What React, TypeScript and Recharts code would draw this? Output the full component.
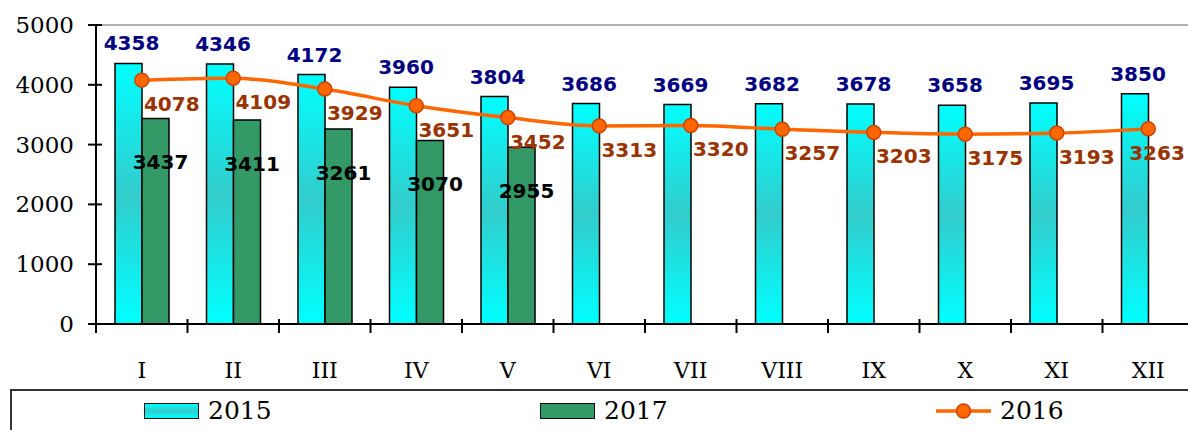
import React from 'react';
import { ComposedChart, Bar, Line, XAxis, YAxis, LabelList, ReferenceLine, Legend } from 'recharts';

const categories = ['I', 'II', 'III', 'IV', 'V', 'VI', 'VII', 'VIII', 'IX', 'X', 'XI', 'XII'];
const values2015 = [4358, 4346, 4172, 3960, 3804, 3686, 3669, 3682, 3678, 3658, 3695, 3850];
const values2017: (number | null)[] = [3437, 3411, 3261, 3070, 2955, null, null, null, null, null, null, null];
const values2016 = [4078, 4109, 3929, 3651, 3452, 3313, 3320, 3257, 3203, 3175, 3193, 3263];
const yTicks = [0, 1000, 2000, 3000, 4000, 5000];

const data = categories.map((c, i) => ({
  cat: c,
  y2015: values2015[i],
  y2017: values2017[i],
  y2016: values2016[i],
}));

const SERIF = '"DejaVu Serif", serif';
const SANS_BOLD = '"DejaVu Sans", Verdana, sans-serif';
const VIEW_W = 1188;

const YTick = (props: any) => {
  const { x, y, payload } = props;
  return (
    <g>
      <line x1={x + 14} x2={x + 28} y1={y} y2={y} stroke="#000" strokeWidth={2} />
      <text x={x} y={y} textAnchor="end" dominantBaseline="central" fontFamily={SERIF} fontSize={23} fill="#000">
        {payload.value}
      </text>
    </g>
  );
};

const XTick = (props: any) => {
  const { x, y, payload, index } = props;
  const half = payload && typeof payload.offset === 'number' && payload.offset > 0 ? payload.offset : 45.7;
  const last = index === categories.length - 1;
  return (
    <g>
      <line x1={x - half} x2={x - half} y1={y - 5} y2={y + 9} stroke="#000" strokeWidth={2} />
      {last && <line x1={x + half} x2={x + half} y1={y - 5} y2={y + 9} stroke="#000" strokeWidth={2} />}
      <text x={x} y={y + 46} textAnchor="middle" dominantBaseline="central" fontFamily={SERIF} fontSize={22} fill="#000">
        {payload.value}
      </text>
    </g>
  );
};

const label2015 = (props: any) => {
  const { x, y, width, value } = props;
  if (value == null) return null;
  return (
    <text x={x + width / 2 + 3} y={y - 20} textAnchor="middle" dominantBaseline="central"
      fontFamily={SANS_BOLD} fontWeight="bold" fontSize={20} fill="#000080">
      {value}
    </text>
  );
};

const label2017 = (props: any) => {
  const { x, y, width, value } = props;
  if (value == null) return null;
  return (
    <text x={x + width / 2 + 5} y={y + 44} textAnchor="middle" dominantBaseline="central"
      fontFamily={SANS_BOLD} fontWeight="bold" fontSize={20} fill="#000">
      {value}
    </text>
  );
};

const label2016 = (props: any) => {
  const { x, y, value } = props;
  if (value == null) return null;
  const cx = Math.min(x + 30, VIEW_W - 31);
  return (
    <text x={cx} y={y + 24} textAnchor="middle" dominantBaseline="central"
      fontFamily={SANS_BOLD} fontWeight="bold" fontSize={20} fill="#993300">
      {value}
    </text>
  );
};

const legendItems = [
  { key: '2015', kind: 'bar', fill: 'linear-gradient(#00FFFF, #33CCCC 50%, #00FFFF)' },
  { key: '2017', kind: 'bar', fill: '#339966' },
  { key: '2016', kind: 'line', fill: '#FF6600' },
];

const renderLegend = () => (
  <div style={{
    boxSizing: 'border-box', width: 1200, height: 41, borderTop: '2px solid #333', borderLeft: '2px solid #333',
    display: 'flex', alignItems: 'center', paddingLeft: 132,
  }}>
    {legendItems.map((it) => (
      <div key={it.key} style={{ width: 396, flexShrink: 0, display: 'flex', alignItems: 'center' }}>
        {it.kind === 'bar' ? (
          <div style={{ width: 55, height: 16, boxSizing: 'border-box', border: '1.5px solid #111', background: it.fill }} />
        ) : (
          <svg width={55} height={18}>
            <line x1={0} x2={55} y1={9} y2={9} stroke="#FF6600" strokeWidth={3.5} />
            <circle cx={27.5} cy={9} r={7} fill="#FF6600" stroke="#CC4400" strokeWidth={1.5} />
          </svg>
        )}
        <span style={{ marginLeft: 9, fontFamily: SERIF, fontSize: 25, color: '#000', lineHeight: '25px' }}>{it.key}</span>
      </div>
    ))}
  </div>
);

export default function App() {
  return (
    <div style={{ position: 'absolute', left: 0, top: 0, width: VIEW_W, height: 430, overflow: 'hidden', background: '#fff' }}>
      <ComposedChart width={1194} height={430} data={data} margin={{ top: 25, right: 0, bottom: 0, left: 0 }}
        barSize={27} barGap={0}>
        <defs>
          <linearGradient id="cyanGrad" x1="0" y1="0" x2="0" y2="1">
            <stop offset="0%" stopColor="#00FFFF" />
            <stop offset="50%" stopColor="#33CCCC" />
            <stop offset="100%" stopColor="#00FFFF" />
          </linearGradient>
        </defs>
        <ReferenceLine y={5000} stroke="#999" strokeWidth={1.5} />
        <XAxis dataKey="cat" tick={<XTick />} tickLine={false} tickSize={0} tickMargin={0} height={65}
          axisLine={{ stroke: '#000', strokeWidth: 2 }} interval={0} />
        <YAxis domain={[0, 5000]} ticks={yTicks} width={96} tick={<YTick />} tickLine={false} tickSize={8} tickMargin={14}
          axisLine={{ stroke: '#000', strokeWidth: 2 }} />
        <Legend content={renderLegend} height={41} wrapperStyle={{ position: 'absolute', left: 10, top: 389, width: 1200, height: 41 }} />
        <Bar dataKey="y2015" name="2015" fill="url(#cyanGrad)" stroke="#000" strokeWidth={1.5} isAnimationActive={false}>
          <LabelList dataKey="y2015" content={label2015} />
        </Bar>
        <Bar dataKey="y2017" name="2017" fill="#339966" stroke="#000" strokeWidth={1.5} isAnimationActive={false}>
          <LabelList dataKey="y2017" content={label2017} />
        </Bar>
        <Line dataKey="y2016" name="2016" type="monotone" stroke="#FF6600" strokeWidth={3.5}
          dot={{ r: 7, fill: '#FF6600', stroke: '#CC4400', strokeWidth: 1.5 }} isAnimationActive={false}>
          <LabelList dataKey="y2016" content={label2016} />
        </Line>
      </ComposedChart>
    </div>
  );
}
